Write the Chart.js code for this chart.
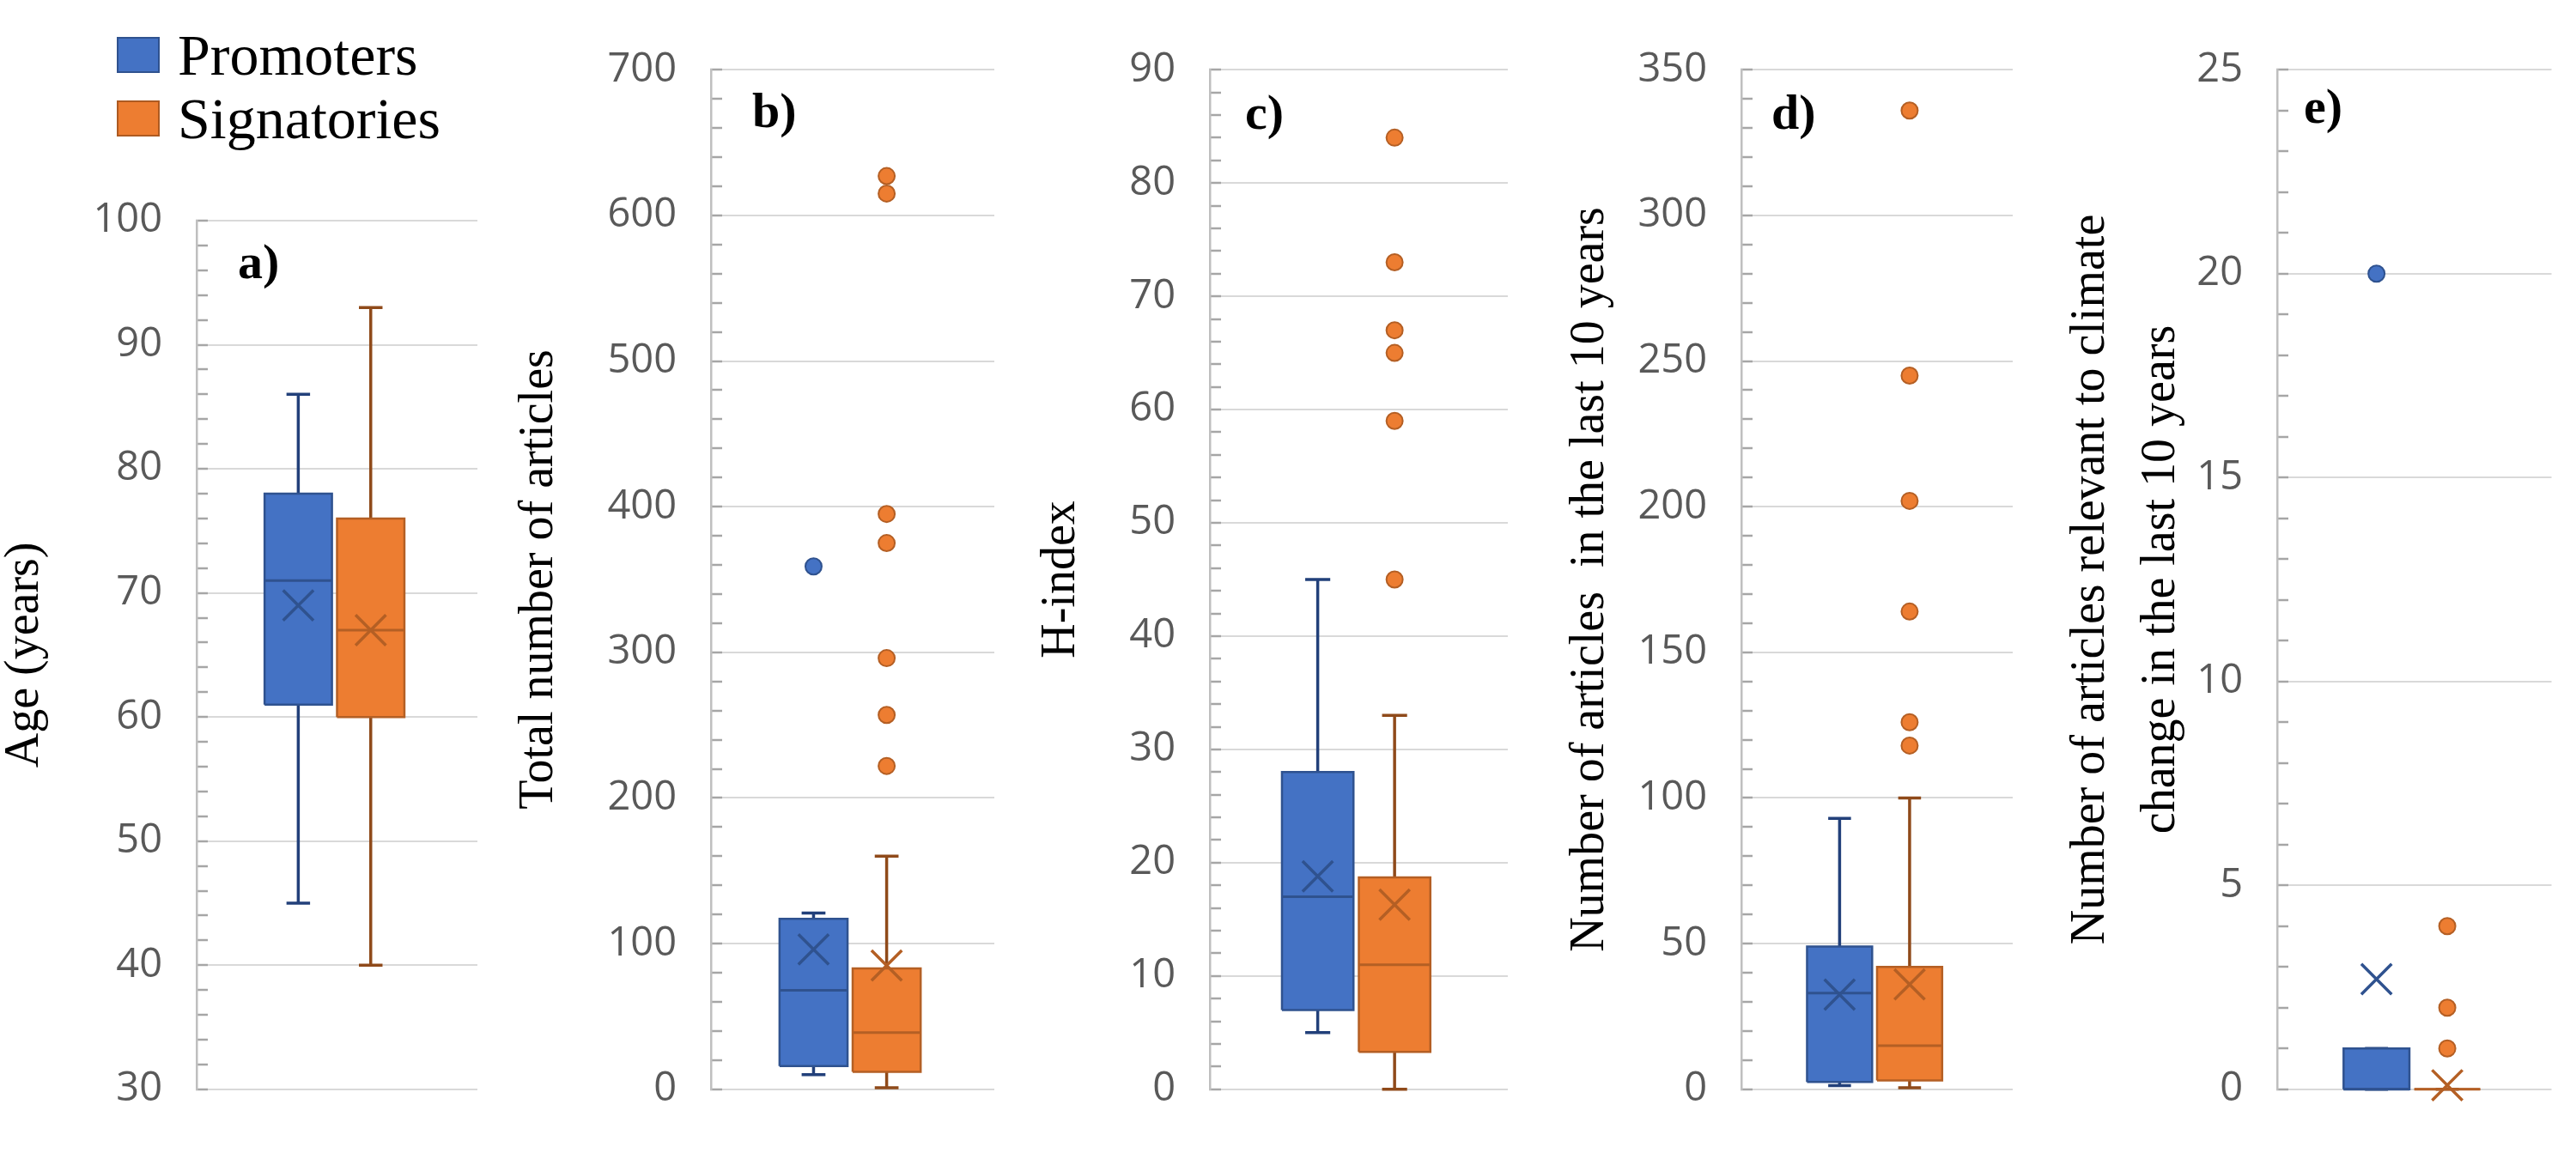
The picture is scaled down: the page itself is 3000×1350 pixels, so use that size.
<!DOCTYPE html>
<html>
<head>
<meta charset="utf-8">
<title>Promoters vs Signatories</title>
<script src="https://cdn.jsdelivr.net/npm/chart.js@4.4.1/dist/chart.umd.min.js"></script>
<style>
    html, body { margin: 0; padding: 0; background: #ffffff; }
    body { width: 3000px; height: 1350px; position: relative; overflow: hidden; }
    .panel { position: absolute; top: 0; width: 600px; height: 1350px; }
    .legend-row { position: absolute; left: 136px; height: 44px; display: flex; align-items: center;
                  font-family: "Liberation Serif", "Times New Roman", serif; font-size: 68px; color: #000; }
    .swatch { width: 46px; height: 38px; margin-right: 21px; box-sizing: content-box; }
</style>
</head>
<body>

<div class="legend-row" style="top:42px"><span class="swatch" style="background:#4472C4;border:2px solid #2F528F"></span>Promoters</div>
<div class="legend-row" style="top:116px"><span class="swatch" style="background:#ED7D31;border:2px solid #AE5A21"></span>Signatories</div>

<canvas id="chartA" class="panel" width="600" height="1350" style="left:0px"></canvas>
<canvas id="chartB" class="panel" width="600" height="1350" style="left:600px"></canvas>
<canvas id="chartC" class="panel" width="600" height="1350" style="left:1200px"></canvas>
<canvas id="chartD" class="panel" width="600" height="1350" style="left:1800px"></canvas>
<canvas id="chartE" class="panel" width="600" height="1350" style="left:2400px"></canvas>

<script>
// groups shown in every panel
const groups = ["Promoters", "Signatories"];

// box summaries per group: [min, q1, median, q3, max]
const ageBox = [[45, 61, 71, 78, 86], [40, 60, 67, 76, 93]];
const ageMean = [69, 67];
const ageOutliers = [[], []];

const totalBox = [[10, 16, 68, 117, 121], [1, 12, 39, 83, 160]];
const totalMean = [96, 85];
const totalOutliers = [[359], [222, 257, 296, 375, 395, 615, 627]];

const hBox = [[5, 7, 17, 28, 45], [0, 3.3, 11, 18.7, 33]];
const hMean = [18.8, 16.3];
const hOutliers = [[], [45, 59, 65, 67, 73, 84]];

const recentBox = [[1.3, 2.5, 33, 49, 93], [0.5, 3, 15, 42, 100]];
const recentMean = [32.5, 36];
const recentOutliers = [[], [118, 126, 164, 202, 245, 336]];

const climateBox = [[0, 0, 0, 1, 1], [0, 0, 0, 0, 0]];
const climateMean = [2.7, 0.1];
const climateOutliers = [[20], [1, 2, 4]];

// axis ranges and tick steps, panels a) to e)
const yMins = [30, 0, 0, 0, 0];
const yMaxs = [100, 700, 90, 350, 25];
const majorSteps = [10, 100, 10, 50, 5];
const minorSteps = [2, 20, 2, 10, 1];

const panelLabels = ["a)", "b)", "c)", "d)", "e)"];
const axisTitles = [
    "Age (years)",
    "Total number of articles",
    "H-index",
    "Number of articles  in the last 10 years",
    ["Number of articles relevant to climate", "change in the last 10 years"]
];

// look
const fills = ["#4472C4", "#ED7D31"];
const strokes = ["#2F528F", "#B45F24"];
const whiskerColors = ["#22407A", "#8F4A1A"];
const centers = [3.62, 6.2];   // group centres on the hidden 0..10 x axis
const halfBox = 1.2;
const halfCap = 0.42;

const layouts = [
    { id: "chartA", axisW: 229, top: 257, right: 44, bottom: 70, titlePad: 1,  lineH: 1.0,  labelDx: 48, labelDy: 52 },
    { id: "chartB", axisW: 228, top: 67,  right: 42, bottom: 61, titlePad: 0,  lineH: 1.0,  labelDx: 48, labelDy: 52 },
    { id: "chartC", axisW: 209, top: 67,  right: 44, bottom: 77, titlePad: 8,  lineH: 1.0,  labelDx: 41, labelDy: 54 },
    { id: "chartD", axisW: 228, top: 67,  right: 56, bottom: 77, titlePad: 24, lineH: 1.0,  labelDx: 35, labelDy: 54 },
    { id: "chartE", axisW: 252, top: 73,  right: 8,  bottom: 77, titlePad: -5, lineH: 1.45, labelDx: 31, labelDy: 47 }
];

const panelData = [
    [ageBox, ageMean, ageOutliers],
    [totalBox, totalMean, totalOutliers],
    [hBox, hMean, hOutliers],
    [recentBox, recentMean, recentOutliers],
    [climateBox, climateMean, climateOutliers]
];

function groupDatasets(box, mean, outliers, g) {
    const [lo, q1, med, q3, hi] = box;
    const c = centers[g];
    const l = c - halfBox, r = c + halfBox;
    const common = { pointRadius: 0, fill: false, clip: false, tension: 0 };
    return [
        {   // box
            ...common, label: groups[g], order: 5,
            data: [{ x: l, y: q1 }, { x: r, y: q1 }, { x: r, y: q3 }, { x: l, y: q3 }, { x: l, y: q1 }],
            fill: "shape", backgroundColor: fills[g], borderColor: strokes[g], borderWidth: 2.5,
            borderJoinStyle: "miter"
        },
        {   // whiskers and caps
            ...common, order: 6,
            data: [
                { x: c - halfCap, y: lo }, { x: c + halfCap, y: lo }, { x: c, y: null },
                { x: c, y: lo }, { x: c, y: q1 }, { x: c, y: null },
                { x: c, y: q3 }, { x: c, y: hi }, { x: c, y: null },
                { x: c - halfCap, y: hi }, { x: c + halfCap, y: hi }
            ],
            borderColor: whiskerColors[g], borderWidth: 3.5
        },
        {   // median
            ...common, order: 3,
            data: [{ x: l, y: med }, { x: r, y: med }],
            borderColor: strokes[g], borderWidth: 3
        },
        {   // mean
            ...common, order: 2, showLine: false,
            data: [{ x: c, y: mean }],
            pointStyle: "crossRot", pointRadius: 25, pointBorderWidth: 3.5,
            pointBorderColor: strokes[g], borderColor: strokes[g]
        },
        {   // outliers
            ...common, order: 1, showLine: false,
            data: outliers.map(v => ({ x: c, y: v })),
            pointStyle: "circle", pointRadius: 9.5, pointBorderWidth: 2,
            pointBackgroundColor: fills[g], pointBorderColor: strokes[g]
        }
    ];
}

const panelLabelPlugin = {
    id: "panelLabel",
    afterDraw(chart, args, opts) {
        const { ctx, chartArea } = chart;
        ctx.save();
        ctx.font = "bold 58px 'Liberation Serif'";
        ctx.fillStyle = "#000000";
        ctx.textBaseline = "middle";
        ctx.textAlign = "left";
        ctx.fillText(opts.text, chartArea.left + opts.dx, chartArea.top + opts.dy);
        ctx.restore();
    }
};

function isMajor(v, step) {
    return Math.abs(v / step - Math.round(v / step)) < 1e-6;
}

function buildPanel(i) {
    const lay = layouts[i];
    const [box, mean, outl] = panelData[i];
    const major = majorSteps[i];
    const datasets = [
        ...groupDatasets(box[0], mean[0], outl[0], 0),
        ...groupDatasets(box[1], mean[1], outl[1], 1)
    ];

    new Chart(document.getElementById(lay.id).getContext("2d"), {
        type: "line",
        data: { datasets: datasets },
        plugins: [panelLabelPlugin],
        options: {
            responsive: false,
            animation: false,
            events: [],
            layout: { padding: { left: 0, top: lay.top, right: lay.right, bottom: lay.bottom } },
            plugins: {
                legend: { display: false },
                tooltip: { enabled: false },
                panelLabel: { text: panelLabels[i], dx: lay.labelDx, dy: lay.labelDy }
            },
            scales: {
                x: { type: "linear", min: 0, max: 10, display: false },
                y: {
                    type: "linear",
                    min: yMins[i],
                    max: yMaxs[i],
                    afterFit: scale => { scale.width = lay.axisW; },
                    ticks: {
                        stepSize: minorSteps[i],
                        autoSkip: false,
                        padding: 53,
                        color: "#595959",
                        font: { family: "'Open Sans'", size: 47 },
                        callback: v => isMajor(v, major) ? String(v) : ""
                    },
                    grid: {
                        color: ctx => isMajor(ctx.tick.value, major) ? "#D9D9D9" : "rgba(0,0,0,0)",
                        lineWidth: 2,
                        tickLength: -13,
                        tickColor: "#A6A6A6",
                        tickWidth: 2.5
                    },
                    border: { color: "#BFBFBF", width: 2.5 },
                    title: {
                        display: true,
                        text: axisTitles[i],
                        color: "#000000",
                        font: { family: "'Liberation Serif'", size: 56, lineHeight: lay.lineH },
                        padding: { top: lay.titlePad, bottom: 0 }
                    }
                }
            }
        }
    });
}

for (let i = 0; i < layouts.length; i++) {
    buildPanel(i);
}
</script>
</body>
</html>
